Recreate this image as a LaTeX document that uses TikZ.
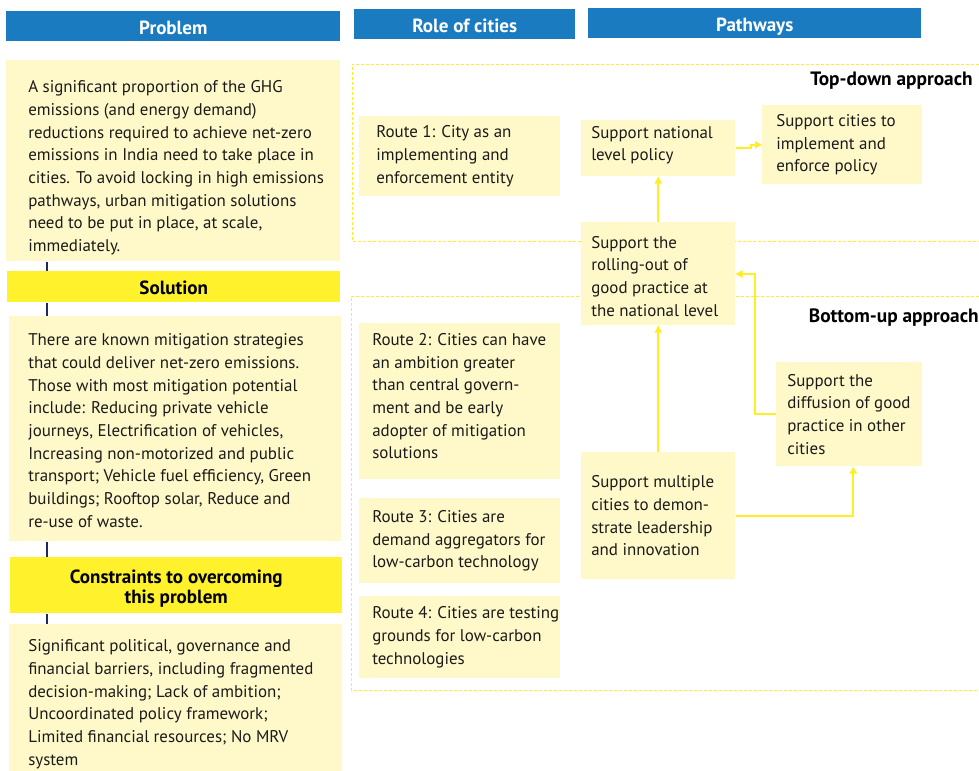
\documentclass[tikz,border=0pt]{standalone}
\usepackage{fontspec}
\setmainfont{PT Sans}
\usetikzlibrary{arrows.meta,calc}
\newlength\px \setlength\px{0.75pt}
\definecolor{hblue}{HTML}{1B7BC0}
\definecolor{lyel}{HTML}{FFF9C9}
\definecolor{byel}{HTML}{FFF22D}
\definecolor{ayel}{HTML}{FFEE22}
\definecolor{navy}{HTML}{1F2A5C}
\definecolor{txt}{HTML}{1A1A1A}
\newcommand\bodyfont{\fontsize{12.7pt}{17pt}\selectfont}
\newcommand\hstrut{\rule[-4.2pt]{0pt}{14pt}}
\newcommand\bx[4]{\parbox[c][#2\px][c]{#1\px}{\raggedright\leftskip=#3\px\relax\bodyfont\color{txt}#4}}
\newcommand\hb[3]{\parbox[c][#2\px][c]{#1\px}{\vspace*{8\px}\centering\fontsize{14.3pt}{15pt}\selectfont\bfseries\hstrut #3}}
\tikzset{
  box/.style={fill=lyel, anchor=north west, inner sep=0pt},
  hdr/.style={fill=hblue, text=white, anchor=north west, inner sep=0pt},
  ybar/.style={fill=byel, text=black, anchor=north west, inner sep=0pt},
  frame/.style={draw=ayel, line width=0.75pt, dash pattern=on 2.25pt off 1.5pt},
  arr/.style={draw=ayel, line width=1.5pt, -{Triangle[length=5.25pt,width=5.25pt]}},
  conn/.style={draw=navy, line width=1.9pt},
  lab/.style={inner sep=0pt, font=\fontsize{14.5pt}{16pt}\selectfont\bfseries, text=black}
}
\begin{document}
\begin{tikzpicture}[x=0.75pt,y=-0.75pt]
\useasboundingbox (0,0) rectangle (979,771);
\fill[white] (0,0) rectangle (979,771);
% frames
\draw[frame] (979,64) -- (352,64) -- (352,241) -- (979,241);
\draw[frame] (979,296) -- (351,296) -- (351,690) -- (979,690);
% headers
\node[hdr] (hprob) at (6,11) {\hb{334}{30}{Problem}};
\node[hdr] (hrole) at (354,9) {\hb{221}{30}{Role of cities}};
\node[hdr] (hpath) at (588,8) {\hb{333}{30}{Pathways}};
% left column
\node[box] (problem) at (6,60) {\bx{334}{201}{22}{\vspace*{14\px}A significant proportion of the GHG\\emissions (and energy demand)\\reductions required to achieve net-zero\\emissions in India need to take place in\\cities. To avoid locking in high emissions\\pathways, urban mitigation solutions\\need to be put in place, at scale,\\immediately.}};
\node[ybar] (solution) at (7,271) {\hb{333}{31}{Solution}};
\node[box] (soltext) at (9,316) {\bx{332}{225}{19}{\vspace*{4\px}There are known mitigation strategies\\that could deliver net-zero emissions.\\Those with most mitigation potential\\include: Reducing private vehicle\\journeys, Electrification of vehicles,\\Increasing non-motorized and public\\transport; Vehicle fuel efficiency, Green\\buildings; Rooftop solar, Reduce and\\re-use of waste.}};
\node[ybar] (constr) at (10,557) {\parbox[c][56\px][c]{332\px}{\vspace*{8\px}\centering\fontsize{14.3pt}{15pt}\selectfont\bfseries\hstrut Constraints to overcoming\\\hstrut this problem}};
\node[box] (context) at (9,624) {\bx{333}{147}{19}{\vspace*{13\px}Significant political, governance and\\financial barriers, including fragmented\\decision-making; Lack of ambition;\\Uncoordinated policy framework;\\Limited financial resources; No MRV\\system}};
\coordinate (lx) at (47,0);
\draw[conn] (problem.south -| lx) -- (solution.north -| lx);
\draw[conn] (solution.south -| lx) -- (soltext.north -| lx);
\draw[conn] (soltext.south -| lx) -- (constr.north -| lx);
\draw[conn] (constr.south -| lx) -- (context.north -| lx);
% routes
\node[box] (route1) at (359,116) {\bx{201}{80}{17}{Route 1: City as an\\implementing and\\enforcement entity}};
\node[box] (route2) at (359,323) {\bx{201}{156}{13}{Route 2: Cities can have\\an ambition greater\\than central govern-\\ment and be early\\adopter of mitigation\\solutions\par\vspace*{10\px}}};
\node[box] (route3) at (359,498) {\bx{201}{85}{13}{Route 3: Cities are\\demand aggregators for\\low-carbon technology}};
\node[box] (route4) at (359,596) {\bx{201}{82}{13}{Route 4: Cities are testing\\grounds for low-carbon\\technologies}};
% pathways
\node[box] (national) at (581,120) {\bx{154}{56}{10}{Support national\\level policy\par\vspace*{6\px}}};
\node[box] (cities) at (762,105) {\bx{160}{79}{14}{Support cities to\\implement and\\enforce policy}};
\node[box] (rolling) at (581,222) {\bx{154}{103}{10}{\vspace*{5\px}Support the\\rolling-out of\\good practice at\\the national level}};
\node[box] (diffusion) at (776,362) {\bx{146}{104}{11}{Support the\\diffusion of good\\practice in other\\cities}};
\node[box] (multiple) at (581,452) {\bx{154}{127}{10}{Support multiple\\cities to demon-\\strate leadership\\and innovation}};
% labels
\node[lab, anchor=east] (td) at (973,81) {Top-down approach};
\node[lab, anchor=east] (bu) at (979,318) {Bottom-up approach};
% arrows
\draw[arr] (national.east) -- ++(15,0) |- (cities.west);
\draw[arr] (rolling.north) -- (national.south);
\draw[arr] (multiple.north) -- (rolling.south);
\draw[arr] (diffusion.west) -- ++(-21,0) |- ($(rolling.north east)+(0,52)$);
\draw[arr] (multiple.east) -| ($(diffusion.south)+(4,0)$);
\end{tikzpicture}
\end{document}
